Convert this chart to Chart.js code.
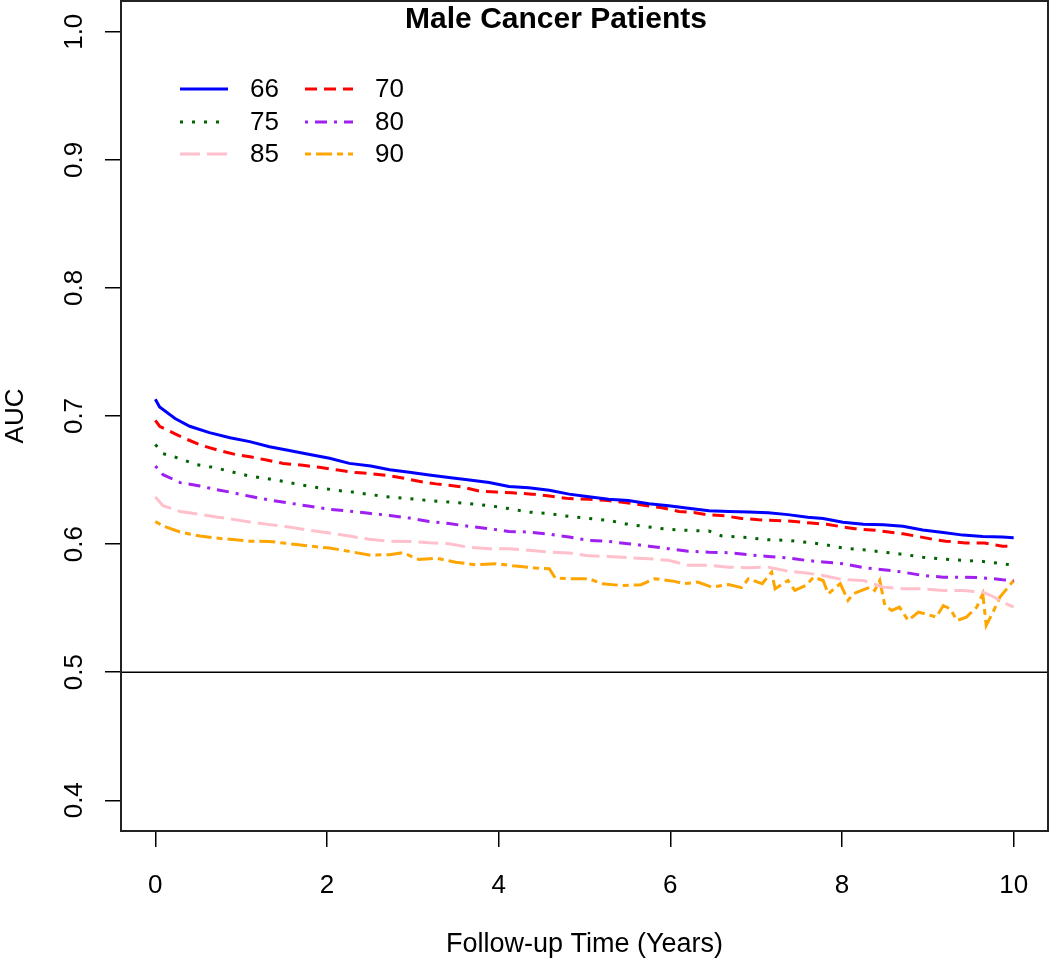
<!DOCTYPE html>
<html>
<head>
<meta charset="utf-8">
<script src="https://cdn.jsdelivr.net/npm/chart.js@4/dist/chart.umd.min.js"></script>
<style>
html,body{margin:0;padding:0;background:#fff;}
canvas{display:block;}
</style>
</head>
<body>
<canvas id="c" width="1050" height="963"></canvas>
<script>
// ---- Data ----
const xTicks = [0, 2, 4, 6, 8, 10];
const yTicks = [0.4, 0.5, 0.6, 0.7, 0.8, 0.9, 1.0];
const seriesNames = ["66", "70", "75", "80", "85", "90"];

const t66 = [0,0.05,0.23,0.40,0.63,0.87,1.10,1.33,1.56,1.80,2.03,2.26,2.51,2.73,2.96,3.19,3.42,3.66,3.89,4.12,4.35,4.59,4.82,5.05,5.28,5.51,5.75,5.98,6.21,6.45,6.68,6.91,7.14,7.37,7.60,7.78,8.01,8.25,8.48,8.71,8.94,9.18,9.41,9.64,9.87,10.0];
const auc66 = [0.713,0.707,0.698,0.692,0.687,0.683,0.680,0.676,0.673,0.670,0.667,0.663,0.661,0.658,0.656,0.654,0.652,0.650,0.648,0.645,0.644,0.642,0.639,0.637,0.635,0.634,0.6315,0.630,0.628,0.626,0.6255,0.625,0.6245,0.623,0.621,0.620,0.617,0.6154,0.615,0.614,0.611,0.609,0.607,0.606,0.6055,0.605];

const t70 = [0,0.05,0.23,0.36,0.54,0.75,0.93,1.12,1.31,1.49,1.72,1.91,2.15,2.34,2.51,2.69,2.88,3.07,3.27,3.42,3.58,3.77,3.97,4.16,4.39,4.59,4.82,5.05,5.28,5.51,5.73,5.90,6.10,6.29,6.42,6.64,6.83,7.03,7.22,7.45,7.64,7.82,8.05,8.15,8.40,8.59,8.71,8.88,9.06,9.21,9.44,9.66,9.87,10.0];
const auc70 = [0.6966,0.692,0.686,0.682,0.677,0.673,0.670,0.668,0.6654,0.663,0.6615,0.660,0.6576,0.6558,0.655,0.6537,0.6516,0.649,0.647,0.646,0.6445,0.6414,0.6406,0.640,0.639,0.6375,0.6355,0.635,0.634,0.632,0.630,0.6284,0.6255,0.6245,0.623,0.622,0.620,0.619,0.6185,0.6177,0.6164,0.6154,0.613,0.612,0.6107,0.609,0.608,0.606,0.6037,0.6023,0.6008,0.6008,0.5984,0.598];

const t75 = [0,0.09,0.29,0.48,0.67,0.87,1.06,1.25,1.49,1.68,1.87,2.11,2.30,2.49,2.73,2.96,3.19,3.42,3.66,3.89,4.12,4.35,4.59,4.82,5.05,5.28,5.51,5.75,5.98,6.21,6.45,6.60,6.91,7.14,7.37,7.60,7.78,8.01,8.25,8.48,8.71,8.94,9.18,9.41,9.64,9.87,10.0];
const auc75 = [0.6777,0.6706,0.6667,0.662,0.660,0.6568,0.6537,0.6516,0.649,0.6464,0.6443,0.642,0.6406,0.6388,0.6367,0.6355,0.634,0.6328,0.6316,0.630,0.6277,0.625,0.6238,0.6216,0.620,0.6185,0.6154,0.6133,0.6115,0.6107,0.6102,0.6063,0.605,0.6034,0.6029,0.6013,0.5998,0.5969,0.5956,0.5937,0.592,0.5898,0.5883,0.5873,0.5865,0.5847,0.5834];

const t80 = [0,0.09,0.29,0.52,0.71,0.87,1.10,1.33,1.56,1.80,2.03,2.26,2.49,2.73,2.96,3.19,3.42,3.66,3.89,4.12,4.35,4.59,4.82,5.05,5.28,5.51,5.75,5.98,6.21,6.45,6.68,6.91,7.14,7.37,7.58,7.78,8.01,8.25,8.48,8.71,8.94,9.18,9.41,9.64,9.87,10.0];
const auc80 = [0.661,0.6542,0.648,0.6453,0.6425,0.6406,0.6373,0.6344,0.632,0.6295,0.6271,0.6258,0.624,0.6224,0.6203,0.6177,0.616,0.6138,0.612,0.6099,0.6094,0.6078,0.6055,0.6029,0.6021,0.6003,0.5984,0.5964,0.5945,0.5937,0.5933,0.5917,0.5904,0.5891,0.5873,0.586,0.5847,0.5816,0.580,0.5781,0.5755,0.5742,0.5742,0.5737,0.5722,0.5716];

const t85 = [0,0.09,0.29,0.52,0.71,0.91,1.10,1.33,1.56,1.80,2.03,2.26,2.49,2.73,2.96,3.19,3.42,3.66,3.89,4.12,4.35,4.59,4.82,5.05,5.28,5.51,5.75,5.98,6.21,6.45,6.68,6.91,7.14,7.37,7.58,7.78,8.01,8.25,8.48,8.71,8.94,9.18,9.41,9.64,9.76,9.87,10.0];
const auc85 = [0.6367,0.630,0.6255,0.6232,0.6211,0.6193,0.6172,0.6152,0.6133,0.6107,0.6086,0.6063,0.6037,0.6023,0.6021,0.601,0.6003,0.5974,0.5964,0.5964,0.5951,0.5937,0.593,0.5908,0.5904,0.5894,0.5886,0.5873,0.5834,0.5834,0.582,0.5816,0.582,0.5789,0.5775,0.5755,0.5722,0.5716,0.5664,0.5651,0.5651,0.5638,0.5638,0.5625,0.5591,0.5547,0.5508];

const t90 = [0,0.09,0.29,0.52,0.71,0.87,1.10,1.33,1.56,1.80,2.03,2.26,2.49,2.73,2.88,3.07,3.27,3.50,3.73,3.97,4.20,4.43,4.59,4.66,4.82,5.05,5.20,5.43,5.66,5.82,6.05,6.16,6.32,6.48,6.68,6.83,6.91,7.07,7.18,7.22,7.37,7.45,7.58,7.67,7.78,7.84,7.98,8.07,8.13,8.23,8.33,8.38,8.44,8.50,8.58,8.67,8.77,8.89,8.99,9.10,9.18,9.26,9.34,9.45,9.57,9.64,9.68,9.76,9.84,10.0];
const auc90 = [0.6177,0.6141,0.6094,0.6063,0.6047,0.6037,0.6023,0.6021,0.6003,0.5984,0.5969,0.5943,0.5915,0.5917,0.5933,0.588,0.589,0.5859,0.5839,0.5847,0.5828,0.5813,0.5808,0.5734,0.573,0.573,0.5691,0.5677,0.5683,0.573,0.5709,0.5691,0.5703,0.5664,0.5685,0.566,0.573,0.5691,0.5781,0.5651,0.5716,0.5638,0.5677,0.5742,0.5716,0.5612,0.5691,0.556,0.5612,0.5638,0.5664,0.5638,0.5716,0.552,0.5482,0.5508,0.5404,0.5469,0.5451,0.543,0.552,0.5495,0.5404,0.543,0.5508,0.5612,0.5365,0.5469,0.5586,0.5716];

const refLineY = 0.5;
const xRange = [-0.4, 10.4];
const yRange = [0.376, 1.024];

// ---- Styles ----
const FONT = '"Liberation Sans", Arial, sans-serif';
const styles = [
  {color:'#0000FF', dash:[]},
  {color:'#FF0000', dash:[12,7]},
  {color:'#006400', dash:[3,9]},
  {color:'#A020F0', dash:[3,7,12,7]},
  {color:'#FFC0CB', dash:[20,7]},
  {color:'#FFA500', dash:[6,5,16,5]}
];
const times = [t66,t70,t75,t80,t85,t90];
const values = [auc66,auc70,auc75,auc80,auc85,auc90];

const datasets = seriesNames.map((name,i)=>({
  label: name,
  data: times[i].map((t,j)=>({x:t, y:values[i][j]})),
  borderColor: styles[i].color,
  borderDash: styles[i].dash,
  borderWidth: 3,
  pointRadius: 0,
  showLine: true,
  fill: false,
  tension: 0
}));
datasets.push({
  label: 'ref',
  data: xRange.map(x=>({x:x, y:refLineY})),
  borderColor:'#000', borderWidth:1.5, pointRadius:0, showLine:true, fill:false
});

const boxPlugin = {
  id:'box',
  afterDraw(chart){
    const {ctx, chartArea:a} = chart;
    ctx.save();
    ctx.strokeStyle = '#222';
    ctx.lineWidth = 2;
    ctx.setLineDash([]);
    ctx.strokeRect(a.left, a.top, a.right-a.left, a.bottom-a.top);
    // title
    ctx.fillStyle = '#000';
    ctx.font = 'bold 30px ' + FONT;
    ctx.textAlign = 'center';
    ctx.textBaseline = 'alphabetic';
    ctx.fillText('Male Cancer Patients', 556, 28);
    // legend (2 columns x 3 rows)
    ctx.font = '26px ' + FONT;
    ctx.textAlign = 'left';
    ctx.textBaseline = 'middle';
    const colX = [180, 305];
    const rowY = [89, 122, 154];
    seriesNames.forEach((name,i)=>{
      const c = i % 2, r = Math.floor(i/2);
      const x0 = colX[c], y0 = rowY[r];
      ctx.strokeStyle = styles[i].color;
      ctx.lineWidth = 3;
      ctx.setLineDash(styles[i].dash);
      ctx.beginPath(); ctx.moveTo(x0, y0); ctx.lineTo(x0+48, y0); ctx.stroke();
      ctx.setLineDash([]);
      ctx.fillStyle = '#000';
      ctx.fillText(name, x0+70, y0+1);
    });
    ctx.restore();
  }
};

new Chart(document.getElementById('c'), {
  type:'scatter',
  data:{datasets},
  options:{
    responsive:false,
    animation:false,
    layout:{padding:{top:1, right:2, left:0, bottom:0}},
    plugins:{legend:{display:false}, tooltip:{enabled:false}, title:{display:false}},
    scales:{
      x:{
        type:'linear', min:xRange[0], max:xRange[1],
        afterBuildTicks(s){ s.ticks = xTicks.map(v=>({value:v})); },
        afterFit(s){ s.height = 132; s.paddingLeft = 0; s.paddingRight = 0; },
        grid:{display:true, drawOnChartArea:false, drawTicks:true, tickLength:16, color:'#000', lineWidth:1.5},
        border:{display:false},
        ticks:{color:'#000', font:{family:FONT, size:26}, padding:23, maxRotation:0, callback:v=>String(v)},
        title:{display:true, text:'Follow-up Time (Years)', color:'#000', font:{family:FONT, size:27}, padding:{top:0,bottom:2}}
      },
      y:{
        type:'linear', min:yRange[0], max:yRange[1],
        afterBuildTicks(s){ s.ticks = yTicks.map(v=>({value:v})); },
        afterFit(s){ s.width = 121; s.paddingTop = 0; s.paddingBottom = 0; },
        grid:{display:true, drawOnChartArea:false, drawTicks:true, tickLength:16, color:'#000', lineWidth:1.5},
        border:{display:false},
        ticks:{color:'#000', font:{family:FONT, size:26}, padding:12, minRotation:90, maxRotation:90, crossAlign:'center', callback:v=>v.toFixed(1)},
        title:{display:true, text:'AUC', color:'#000', font:{family:FONT, size:26}, padding:{top:0,bottom:0}}
      }
    }
  },
  plugins:[boxPlugin]
});
</script>
</body>
</html>
